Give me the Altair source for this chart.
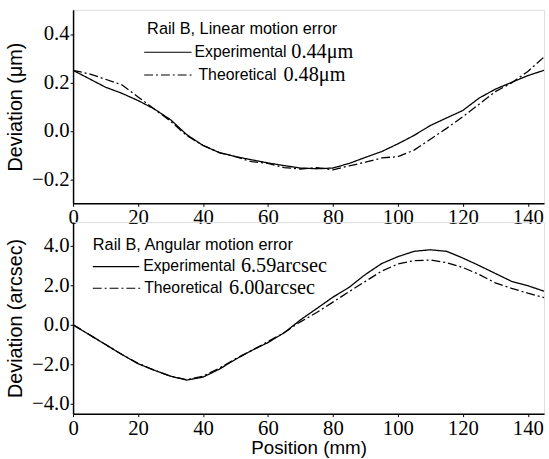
import altair as alt
import pandas as pd

position = [0, 5, 10, 15, 20, 25, 30, 35, 40, 45, 50, 55, 60, 65, 70,
            75, 80, 85, 90, 95, 100, 105, 110, 115, 120, 125, 130, 135, 140, 145]

lin_exp = [0.25, 0.215, 0.18, 0.155, 0.125, 0.09, 0.046, -0.016, -0.061, -0.09,
           -0.107, -0.12, -0.133, -0.144, -0.154, -0.157, -0.154, -0.135, -0.11, -0.086,
           -0.054, -0.019, 0.022, 0.053, 0.084, 0.135, 0.172, 0.20, 0.228, 0.25]
lin_theo = [0.25, 0.235, 0.213, 0.19, 0.14, 0.09, 0.04, -0.02, -0.06, -0.09,
            -0.107, -0.128, -0.135, -0.152, -0.158, -0.152, -0.162, -0.145, -0.13, -0.112,
            -0.107, -0.08, -0.035, 0.01, 0.058, 0.11, 0.162, 0.198, 0.245, 0.305]

ang_exp = [0.0, -0.5, -1.0, -1.5, -1.97, -2.3, -2.6, -2.8, -2.65, -2.25,
           -1.75, -1.3, -0.9, -0.4, 0.25, 0.82, 1.4, 1.9, 2.55, 3.1,
           3.45, 3.72, 3.8, 3.72, 3.38, 3.0, 2.6, 2.2, 1.98, 1.7]
ang_theo = [0.0, -0.5, -1.0, -1.5, -1.95, -2.3, -2.6, -2.78, -2.6, -2.2,
            -1.72, -1.3, -0.85, -0.4, 0.15, 0.62, 1.15, 1.68, 2.2, 2.72,
            3.08, 3.25, 3.28, 3.15, 2.9, 2.55, 2.12, 1.85, 1.6, 1.38]

series = ["Experimental", "Theoretical"]

SANS = "Liberation Sans, Arial, sans-serif"
SERIF = "Liberation Serif, Times New Roman, serif"
W = 477

one = pd.DataFrame({"k": [0]})


def make_df(exp, theo):
    rows = []
    for s, vals in zip(series, [exp, theo]):
        for p, v in zip(position, vals):
            rows.append({"pos": p, "val": v, "series": s})
    return pd.DataFrame(rows)


def panel(df, ydom, yticks, yfmt, ytitle, xtitle, height, leg, show_xtitle, xlabpad):
    xaxis = alt.Axis(values=[0, 20, 40, 60, 80, 100, 120, 140], format="d",
                     grid=False, labelFont=SERIF, labelFontSize=21, labelColor="black",
                     labelFlush=False,
                     tickColor="black", tickSize=3, labelPadding=xlabpad,
                     domainColor="black", domainWidth=1.5,
                     title=xtitle if show_xtitle else "",
                     titleFont=SANS, titleFontSize=19, titleFontWeight="normal",
                     titleColor="black", titlePadding=0)
    yaxis = alt.Axis(values=yticks, format=yfmt, grid=False, labelFont=SERIF,
                     labelFontSize=21, labelColor="black", labelFlush=False, tickColor="black",
                     tickSize=3, labelPadding=1, domainColor="black", domainWidth=1.5,
                     title=ytitle, titleFont=SANS, titleFontSize=20,
                     titleFontWeight="normal", titleColor="black", titlePadding=6)
    lines = alt.Chart(df).mark_line(color="black", strokeWidth=1.3).encode(
        x=alt.X("pos:Q", scale=alt.Scale(domain=[0, 145], nice=False, zero=False), axis=xaxis),
        y=alt.Y("val:Q", scale=alt.Scale(domain=ydom, nice=False, zero=False), axis=yaxis),
        strokeDash=alt.StrokeDash("series:N", scale=alt.Scale(domain=series, range=[[1, 0], [9, 3, 2, 3]]),
                                  legend=None),
        detail="series:N",
    )
    (tx, ty, sx0, sx1, ey, ex, evx, thy, thx, thvx, title, ev, tv) = leg
    layers = [lines]
    layers.append(alt.Chart(one).mark_text(align="left", baseline="middle", font=SANS, fontSize=16.5,
                                           color="black").encode(
        x=alt.value(tx), y=alt.value(ty), text=alt.value(title)))
    layers.append(alt.Chart(one).mark_rule(color="black", strokeWidth=1.2).encode(
        x=alt.value(sx0), x2=alt.value(sx1), y=alt.value(ey)))
    layers.append(alt.Chart(one).mark_rule(color="black", strokeWidth=1.2, strokeDash=[9, 3, 2, 3]).encode(
        x=alt.value(sx0), x2=alt.value(sx1 + 3), y=alt.value(thy)))
    for (xx, yy, txt, f) in [(ex, ey, "Experimental", SANS), (evx, ey, ev, SERIF),
                             (thx, thy, "Theoretical", SANS), (thvx, thy, tv, SERIF)]:
        layers.append(alt.Chart(one).mark_text(align="left", baseline="middle", font=f,
                                               fontSize=16 if f == SANS else 20.5,
                                               color="black").encode(
            x=alt.value(xx), y=alt.value(yy), text=alt.value(txt)))
    return alt.layer(*layers).properties(width=W, height=height)


top = panel(make_df(lin_exp, lin_theo), [-0.3, 0.5], [-0.2, 0.0, 0.2, 0.4], ".1f",
            "Deviation  (μm)", "Position  (mm)", 196,
            (75, 20, 72, 120, 43, 123, 221, 66, 127, 213,
             "Rail B, Linear motion error", "0.44μm", "0.48μm"), False, 0)
bottom = panel(make_df(ang_exp, ang_theo), [-4.5, 5.2], [-4.0, -2.0, 0.0, 2.0, 4.0], ".1f",
               "Deviation  (arcsec)", "Position  (mm)", 194,
               (20, 23, 20, 67, 45, 71, 170, 67, 72, 158,
                "Rail B, Angular motion error", "6.59arcsec", "6.00arcsec"), True, 1)

chart = alt.vconcat(top, bottom, spacing=19, bounds="flush").properties(
    padding={"left": 5, "top": 6, "right": 1, "bottom": 0}
).configure_view(stroke="black", strokeWidth=1.5).configure(background="white")

chart.save("out.html", embed_options={"renderer": "svg", "actions": False})
